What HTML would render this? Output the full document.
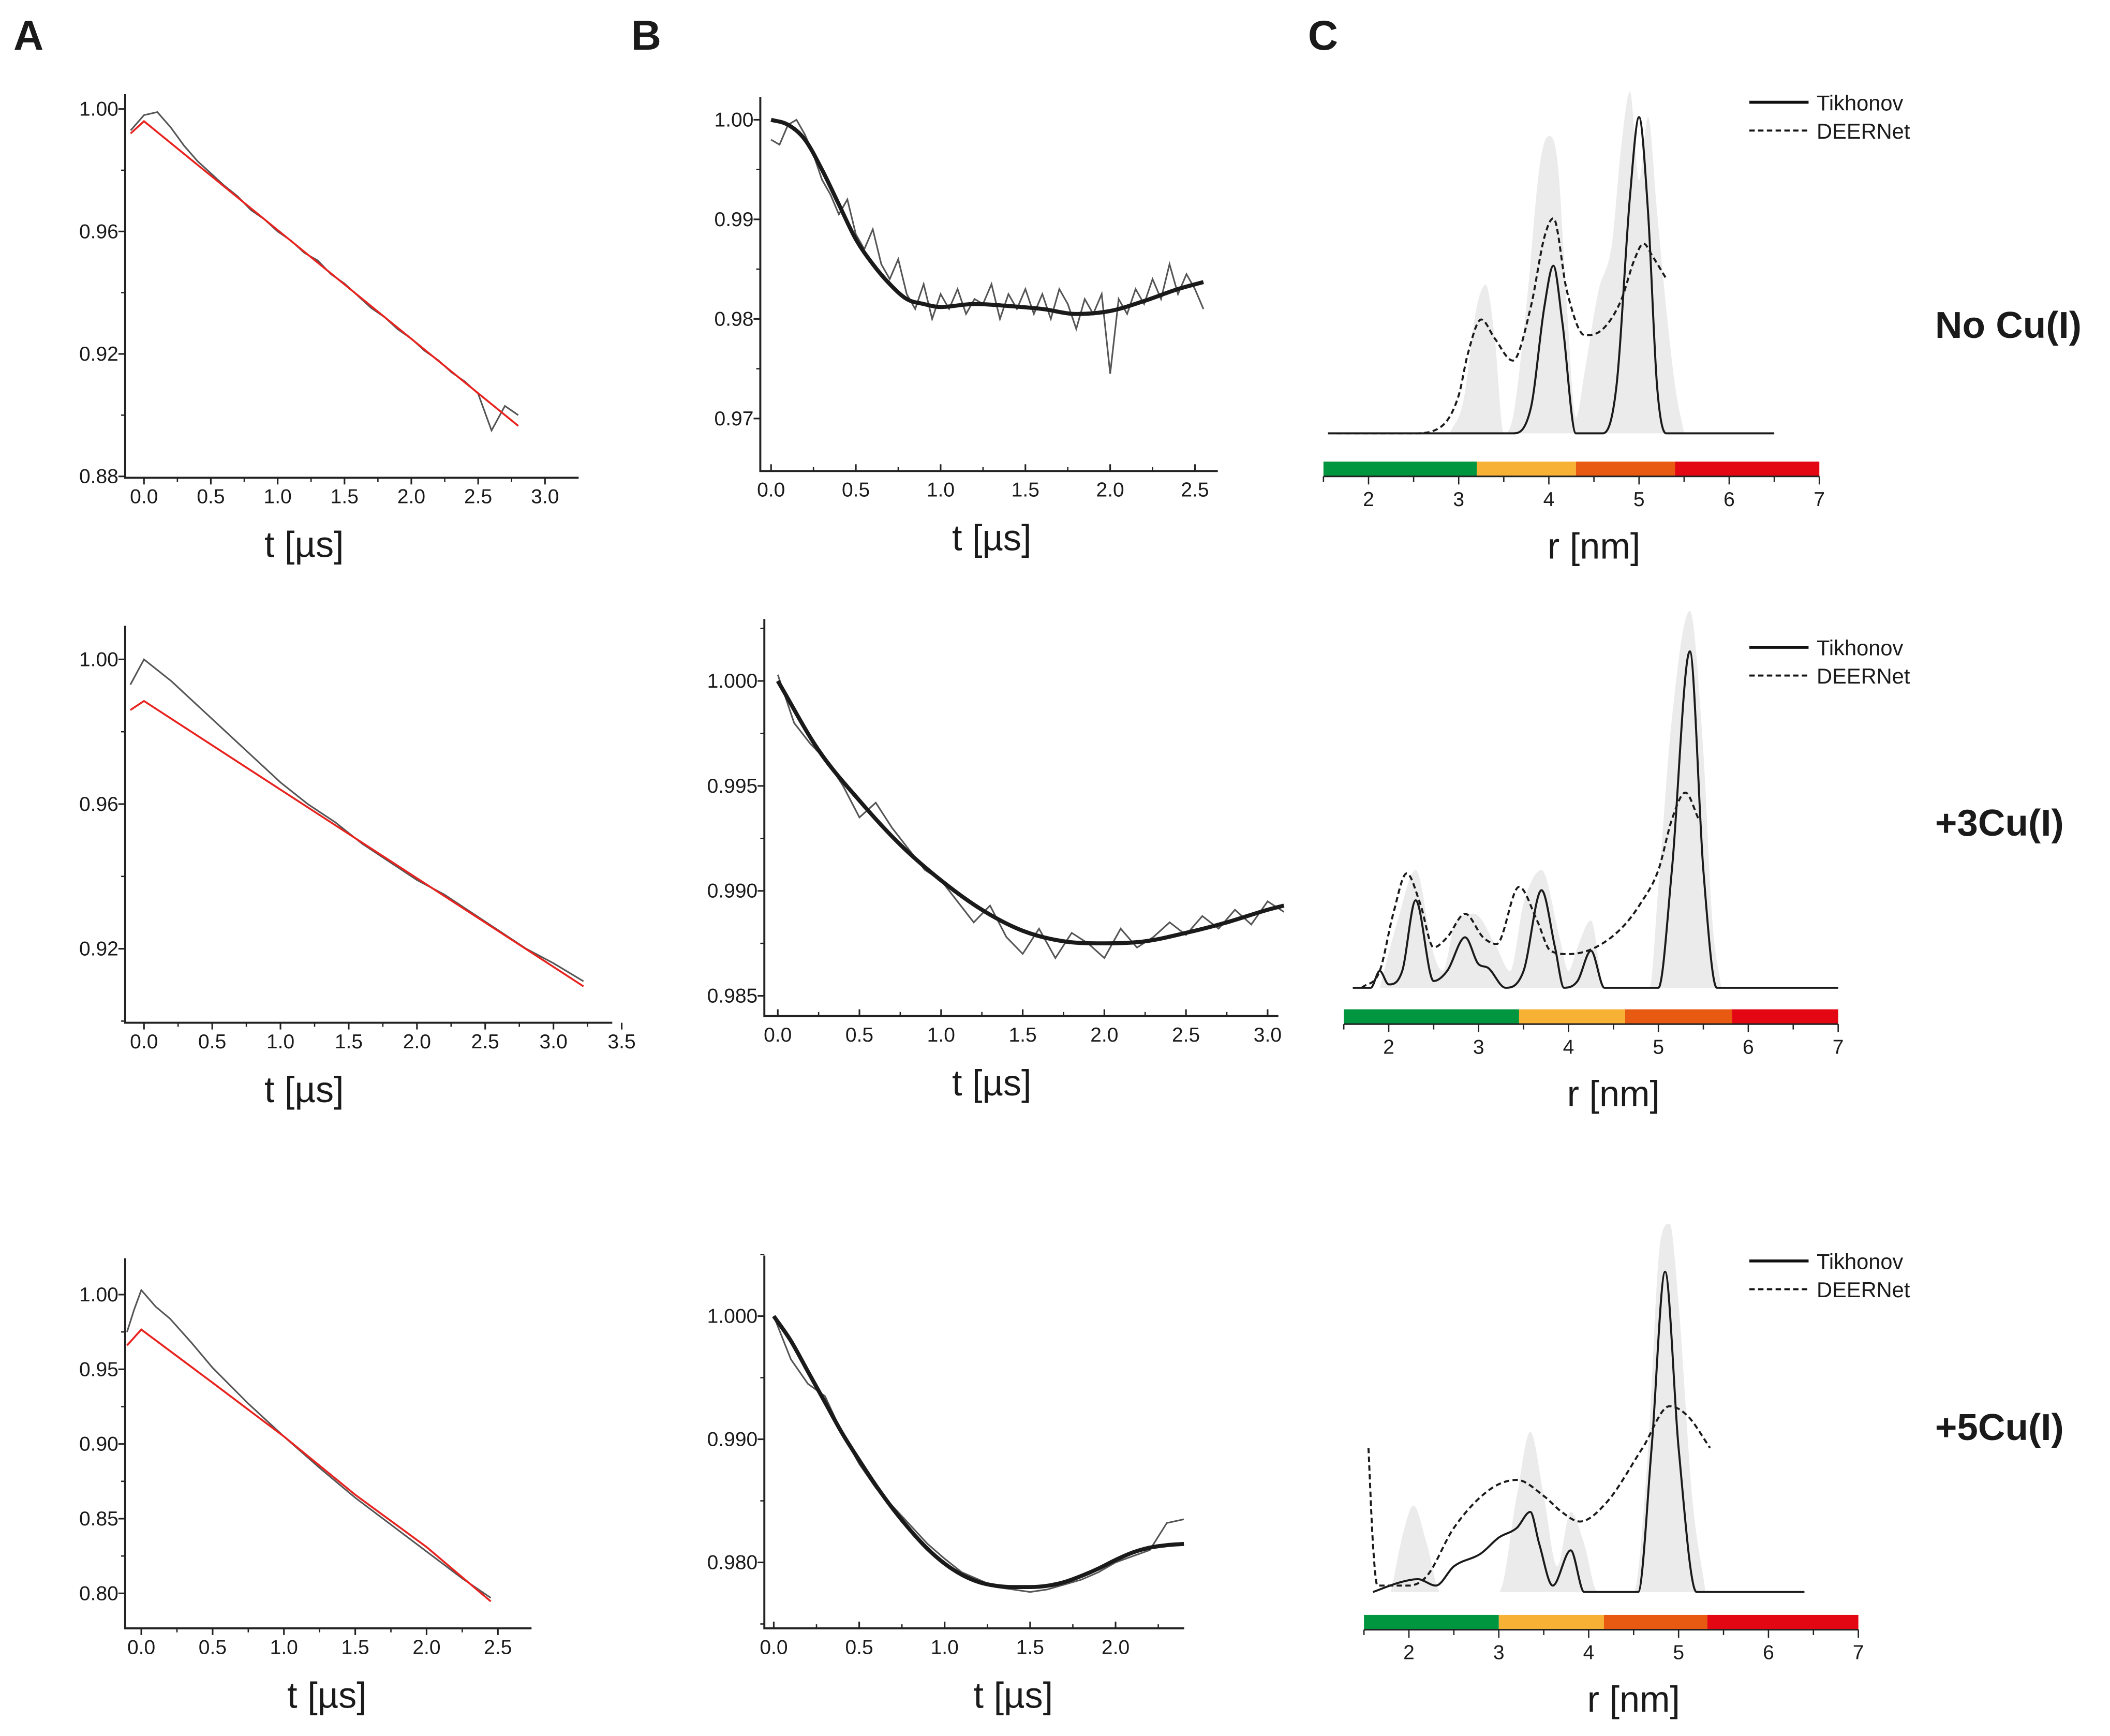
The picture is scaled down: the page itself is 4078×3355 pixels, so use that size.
<!DOCTYPE html>
<html><head><meta charset="utf-8"><style>
html,body{margin:0;padding:0;background:#fff;}
svg{display:block;}
text{font-family:"Liberation Sans",sans-serif;fill:#1a1a1a;}
</style></head><body>
<svg id="fig" xmlns="http://www.w3.org/2000/svg" width="4078" height="3355" viewBox="0 0 1568 1290" preserveAspectRatio="none">
<text x="10" y="37" font-size="31" font-weight="bold">A</text>
<text x="469" y="37" font-size="31" font-weight="bold">B</text>
<text x="972" y="37" font-size="31" font-weight="bold">C</text>
<text x="1438" y="251" font-size="28" font-weight="bold">No Cu(I)</text>
<text x="1438" y="621" font-size="28" font-weight="bold">+3Cu(I)</text>
<text x="1438" y="1070" font-size="28" font-weight="bold">+5Cu(I)</text>
</svg>
<script>
// ---- Panel A data ----
const a1T=[-0.1,0,0.1,0.2,0.3,0.4,0.5,0.6,0.7,0.8,0.9,1.0,1.1,1.2,1.3,1.4,1.5,1.6,1.7,1.8,1.9,2.0,2.1,2.2,2.3,2.4,2.5,2.6,2.7,2.8];
const a1Noisy=[0.993,0.998,0.999,0.994,0.988,0.983,0.979,0.975,0.9715,0.967,0.964,0.960,0.957,0.953,0.9505,0.946,0.943,0.939,0.935,0.932,0.928,0.925,0.921,0.918,0.914,0.911,0.907,0.895,0.903,0.900];
const a1FitT=[-0.1,0,2.8];
const a1Fit=[0.992,0.996,0.8965];
const a2T=[-0.1,0,0.2,0.4,0.6,0.8,1.0,1.2,1.4,1.6,1.8,2.0,2.2,2.4,2.6,2.8,3.0,3.22];
const a2Noisy=[0.993,1.000,0.994,0.987,0.980,0.973,0.966,0.960,0.955,0.949,0.944,0.939,0.935,0.930,0.925,0.920,0.916,0.911];
const a2FitT=[-0.1,0,3.22];
const a2Fit=[0.986,0.9885,0.9096];
const a3T=[-0.1,-0.05,0,0.1,0.2,0.35,0.5,0.75,1.0,1.25,1.5,1.75,2.0,2.25,2.45];
const a3Noisy=[0.975,0.99,1.003,0.992,0.984,0.968,0.951,0.927,0.905,0.884,0.864,0.846,0.828,0.810,0.797];
const a3FitT=[-0.1,0,0.5,1.0,1.5,2.0,2.45];
const a3Fit=[0.966,0.9766,0.941,0.905,0.866,0.831,0.7946];
// ---- Panel B data ----
const b1FitT=[0,0.1,0.2,0.3,0.4,0.5,0.6,0.7,0.8,0.9,1.0,1.2,1.4,1.6,1.8,2.0,2.2,2.4,2.55];
const b1Fit=[1.0,0.9995,0.998,0.995,0.9915,0.988,0.9855,0.9835,0.982,0.9815,0.9812,0.9815,0.9813,0.981,0.9805,0.9808,0.9818,0.983,0.9837];
const b1Noisy=[0.998,0.9975,0.9995,1.0,0.9985,0.9965,0.994,0.9925,0.9905,0.992,0.9885,0.9870,0.9890,0.9855,0.9840,0.9860,0.9825,0.9810,0.9835,0.9800,0.9825,0.9810,0.9830,0.9805,0.9820,0.9815,0.9835,0.9800,0.9825,0.9810,0.9830,0.9805,0.9825,0.9800,0.9830,0.9815,0.9790,0.9820,0.9805,0.9825,0.9745,0.9820,0.9805,0.9830,0.9815,0.9840,0.9820,0.9855,0.9825,0.9845,0.9830,0.9810];
const b2FitT=[0,0.25,0.5,0.75,1.0,1.25,1.5,1.75,2.0,2.25,2.5,2.75,3.0,3.1];
const b2Fit=[1.0,0.9967,0.9943,0.9922,0.9905,0.9891,0.9881,0.9876,0.9875,0.9876,0.9880,0.9885,0.9891,0.9893];
const b2Noisy=[1.0003,0.998,0.997,0.9962,0.995,0.9935,0.9942,0.993,0.992,0.991,0.9905,0.9895,0.9885,0.9893,0.9878,0.9870,0.9882,0.9868,0.9880,0.9875,0.9868,0.9882,0.9873,0.9878,0.9885,0.9879,0.9888,0.9882,0.9891,0.9884,0.9895,0.9890];
const b3FitT=[0,0.1,0.2,0.3,0.4,0.5,0.6,0.7,0.8,0.9,1.0,1.1,1.2,1.3,1.4,1.5,1.6,1.7,1.8,1.9,2.0,2.1,2.2,2.3,2.4];
const b3Fit=[1.0,0.998,0.9955,0.993,0.9905,0.9883,0.9862,0.9843,0.9826,0.9811,0.9799,0.979,0.9784,0.9781,0.978,0.978,0.9781,0.9784,0.9789,0.9795,0.9802,0.9808,0.9812,0.9814,0.9815];
const b3Noisy=[1.0,0.9965,0.9945,0.9935,0.9905,0.9880,0.9860,0.9845,0.9830,0.9815,0.9803,0.9792,0.9786,0.9780,0.9778,0.9776,0.9778,0.9782,0.9786,0.9792,0.9800,0.9805,0.9810,0.9832,0.9835];
// ---- Panel C data ----
const c1TikR=[1.6,3.6,3.8,3.95,4.05,4.15,4.3,4.6,4.75,4.9,5.0,5.1,5.2,5.3,6.5];
const c1Tik=[0,0,0.08,0.4,0.53,0.35,0,0,0.15,0.75,1,0.7,0.15,0,0];
const c1DeerR=[1.55,2.5,2.8,3.0,3.1,3.25,3.4,3.6,3.8,3.95,4.05,4.2,4.4,4.6,4.8,4.95,5.05,5.15,5.3];
const c1Deer=[0,0,0.02,0.12,0.25,0.36,0.3,0.23,0.4,0.62,0.68,0.45,0.31,0.33,0.42,0.55,0.6,0.56,0.49];
const c1GrayR=[2.9,3.05,3.2,3.3,3.4,3.5,3.6,3.75,3.9,4.0,4.1,4.2,4.3,4.4,4.55,4.7,4.8,4.9,5.0,5.1,5.2,5.3,5.4,5.5];
const c1Gray=[0,0.1,0.4,0.47,0.3,0,0.05,0.4,0.85,0.94,0.85,0.4,0.05,0.2,0.45,0.6,0.9,1.08,0.8,1.0,0.7,0.4,0.15,0];
const c2TikR=[1.6,1.8,1.9,2.0,2.15,2.3,2.5,2.65,2.85,3.0,3.1,3.3,3.5,3.7,3.85,3.95,4.1,4.25,4.4,5.0,5.15,5.35,5.5,5.65,7];
const c2Tik=[0,0,0.05,0.01,0.05,0.26,0.02,0.05,0.15,0.07,0.06,0,0.05,0.29,0.12,0,0.02,0.11,0,0,0.35,1.0,0.35,0,0];
const c2DeerR=[1.7,1.9,2.05,2.2,2.35,2.5,2.65,2.85,3.05,3.2,3.45,3.65,3.8,4.0,4.3,4.6,4.8,5.0,5.15,5.3,5.45];
const c2Deer=[0,0.05,0.22,0.34,0.25,0.12,0.15,0.22,0.15,0.13,0.3,0.2,0.11,0.1,0.12,0.18,0.25,0.35,0.5,0.58,0.5];
const c2GrayR=[1.9,2.1,2.3,2.5,2.6,2.75,2.95,3.2,3.35,3.5,3.7,3.9,4.0,4.1,4.25,4.4,4.9,5.0,5.15,5.35,5.5,5.6,5.7];
const c2Gray=[0,0.2,0.35,0.1,0.05,0.2,0.22,0.12,0.05,0.25,0.35,0.15,0.05,0.12,0.2,0,0,0.3,0.8,1.12,0.7,0.2,0];
const c3TikR=[1.6,1.9,2.1,2.3,2.5,2.8,3.0,3.2,3.35,3.45,3.6,3.8,3.95,4.1,4.55,4.7,4.85,5.0,5.2,6.4];
const c3Tik=[0,0.03,0.04,0.02,0.08,0.12,0.17,0.2,0.25,0.15,0.02,0.13,0,0,0,0.45,1.0,0.45,0,0];
const c3DeerR=[1.55,1.6,1.65,1.75,2.0,2.2,2.5,2.9,3.2,3.5,3.7,3.9,4.2,4.6,4.9,5.1,5.35];
const c3Deer=[0.45,0.15,0.02,0.02,0.02,0.05,0.2,0.32,0.35,0.3,0.25,0.22,0.28,0.45,0.58,0.55,0.45];
const c3GrayR=[1.8,1.95,2.05,2.2,2.35,3.0,3.2,3.35,3.5,3.65,3.8,3.95,4.1,4.5,4.65,4.8,4.9,5.0,5.15,5.3];
const c3Gray=[0,0.2,0.27,0.15,0,0,0.3,0.5,0.3,0.08,0.25,0.15,0,0,0.4,1.1,1.15,0.9,0.3,0];

const NS='http://www.w3.org/2000/svg';
const svg=document.getElementById('fig');
function el(tag,attrs,parent){const e=document.createElementNS(NS,tag);for(const k in attrs)e.setAttribute(k,attrs[k]);(parent||svg).appendChild(e);return e;}
function lin(d0,d1,p0,p1){return v=>p0+(v-d0)*(p1-p0)/(d1-d0);}
function poly(xs,ys,sx,sy){return xs.map((x,i)=>sx(x).toFixed(2)+','+sy(ys[i]).toFixed(2)).join(' ');}
// monotone cubic (no overshoot)
function smooth(xs,ys,sx,sy){
  const X=xs.map(sx),Y=ys.map(sy),n=X.length;
  const d=[],m=new Array(n);
  for(let i=0;i<n-1;i++)d.push((Y[i+1]-Y[i])/(X[i+1]-X[i]));
  m[0]=d[0];m[n-1]=d[n-2];
  for(let i=1;i<n-1;i++){m[i]=(d[i-1]*d[i]<=0)?0:(d[i-1]+d[i])/2;}
  for(let i=0;i<n-1;i++){if(d[i]===0){m[i]=0;m[i+1]=0;continue;}
    const a=m[i]/d[i],b=m[i+1]/d[i],s=a*a+b*b;if(s>9){const t=3/Math.sqrt(s);m[i]=t*a*d[i];m[i+1]=t*b*d[i];}}
  let p='M'+X[0].toFixed(2)+','+Y[0].toFixed(2);
  for(let i=0;i<n-1;i++){const h=(X[i+1]-X[i])/3;
    p+=' C'+(X[i]+h).toFixed(2)+','+(Y[i]+m[i]*h).toFixed(2)+' '+(X[i+1]-h).toFixed(2)+','+(Y[i+1]-m[i+1]*h).toFixed(2)+' '+X[i+1].toFixed(2)+','+Y[i+1].toFixed(2);}
  return p;}
function evenSeq(n,start,step){const r=[];for(let i=0;i<n;i++)r.push(+(start+i*step).toFixed(3));return r;}

function timePanel(id,c){
  const g=el('g',{});
  
  
  const sx=lin(c.x0v,c.x1v,c.x0p,c.x1p), sy=lin(c.y0v,c.y1v,c.y0p,c.y1p);
  const ax=el('path',{d:`M${c.axL},${c.axT} V${c.axB} H${c.axR}`,stroke:'#222','stroke-width':1.5,fill:'none'},g);
  
  
  c.yt.forEach(v=>{const y=sy(v);el('line',{x1:c.axL-5,x2:c.axL,y1:y,y2:y,stroke:'#222','stroke-width':1.2},g);
    const t=el('text',{x:c.axL-5,y:y+5,'font-size':15,'text-anchor':'end'},g);t.textContent=c.yfmt(v);
    
    });
  c.ym.forEach(v=>{const y=sy(v);el('line',{x1:c.axL-3,x2:c.axL,y1:y,y2:y,stroke:'#222','stroke-width':1},g);});
  c.xt.forEach(v=>{const x=sx(v);el('line',{x1:x,x2:x,y1:c.axB,y2:c.axB+(c.xin?-5:5),stroke:'#222','stroke-width':1.2},g);
    const t=el('text',{x:x,y:c.axB+19,'font-size':15,'text-anchor':'middle'},g);t.textContent=v.toFixed(1);
    
    });
  c.xm.forEach(v=>{const x=sx(v);el('line',{x1:x,x2:x,y1:c.axB,y2:c.axB+(c.xin?-3:3),stroke:'#222','stroke-width':1},g);});
  const ti=el('text',{x:c.titleX,y:c.axB+59,'font-size':27,'text-anchor':'middle'},g);ti.textContent='t [\u00b5s]';
  
  
  const n=el('polyline',{points:poly(c.nT,c.nV,sx,sy),fill:'none',stroke:'#555','stroke-width':1.2},g);
  
  
  const f=c.red?el('polyline',{points:poly(c.fT,c.fV,sx,sy),fill:'none',stroke:'#e8231f','stroke-width':1.4},g)
                :el('path',{d:smooth(c.fT,c.fV,sx,sy),fill:'none',stroke:'#1a1a1a','stroke-width':3},g);
  
  
}
const f2=v=>v.toFixed(2), f3=v=>v.toFixed(3);
timePanel('panel-a1',{x0v:0,x1v:3.0,x0p:107,x1p:405,y0v:1.0,y1v:0.88,y0p:81,y1p:354,axL:93,axT:70,axB:355,axR:430,
  yt:[1.0,0.96,0.92,0.88],ym:[0.98,0.94,0.90],yfmt:f2,xt:[0,0.5,1,1.5,2,2.5,3],xm:[0.25,0.75,1.25,1.75,2.25,2.75],
  titleX:226,nT:a1T,nV:a1Noisy,fT:a1FitT,fV:a1Fit,red:true});
timePanel('panel-a2',{x0v:0,x1v:3.5,x0p:107,x1p:462,y0v:1.0,y1v:0.92,y0p:490,y1p:705,axL:93,axT:465,axB:760,axR:455,
  yt:[1.0,0.96,0.92],ym:[0.98,0.94,0.90],yfmt:f2,xt:[0,0.5,1,1.5,2,2.5,3,3.5],xm:[0.25,0.75,1.25,1.75,2.25,2.75,3.25],
  titleX:226,nT:a2T,nV:a2Noisy,fT:a2FitT,fV:a2Fit,red:true});
timePanel('panel-a3',{x0v:0,x1v:2.5,x0p:105,x1p:370,y0v:1.0,y1v:0.8,y0p:962,y1p:1184,axL:93,axT:935,axB:1210,axR:395,
  yt:[1.0,0.95,0.9,0.85,0.8],ym:[0.975,0.925,0.875,0.825],yfmt:f2,xt:[0,0.5,1,1.5,2,2.5],xm:[0.25,0.75,1.25,1.75,2.25],
  titleX:243,nT:a3T,nV:a3Noisy,fT:a3FitT,fV:a3Fit,red:true});
timePanel('panel-b1',{x0v:0,x1v:2.5,x0p:573,x1p:888,y0v:1.0,y1v:0.97,y0p:89,y1p:311,axL:565,axT:72,axB:350,axR:905,
  yt:[1.0,0.99,0.98,0.97],ym:[0.995,0.985,0.975],yfmt:f2,xt:[0,0.5,1,1.5,2,2.5],xm:[0.25,0.75,1.25,1.75,2.25],xin:true,
  titleX:737,nT:evenSeq(52,0,0.05),nV:b1Noisy,fT:b1FitT,fV:b1Fit});
timePanel('panel-b2',{x0v:0,x1v:3.0,x0p:578,x1p:942,y0v:1.0,y1v:0.985,y0p:506,y1p:740,axL:568,axT:460,axB:755,axR:950,
  yt:[1.0,0.995,0.99,0.985],ym:[1.0025,0.9975,0.9925,0.9875],yfmt:f3,xt:[0,0.5,1,1.5,2,2.5,3],xm:[0.25,0.75,1.25,1.75,2.25,2.75],xin:true,
  titleX:737,nT:evenSeq(32,0,0.1),nV:b2Noisy,fT:b2FitT,fV:b2Fit});
timePanel('panel-b3',{x0v:0,x1v:2.0,x0p:575,x1p:829,y0v:1.0,y1v:0.98,y0p:978,y1p:1161,axL:568,axT:933,axB:1210,axR:880,
  yt:[1.0,0.99,0.98],ym:[1.005,0.995,0.985,0.975],yfmt:f3,xt:[0,0.5,1,1.5,2],xm:[0.25,0.75,1.25,1.75,2.25],xin:true,
  titleX:753,nT:b3FitT,nV:b3Noisy,fT:b3FitT,fV:b3Fit});

const barColors=['#00963f','#f7b135','#e85a12','#e30613'];
function distPanel(id,c){
  const g=el('g',{});
  
  
  const sx=lin(2,7,c.x2,c.x7), sy=lin(0,1,c.base,c.top);
  const gp=smooth(c.gR,c.gV,sx,sy)+` L${sx(c.gR[c.gR.length-1])},${c.base} L${sx(c.gR[0])},${c.base} Z`;
  const gr=el('path',{d:gp,fill:'#ebebeb',stroke:'none'},g);
  
  
  const d=el('path',{d:smooth(c.dR,c.dV,sx,sy),fill:'none',stroke:'#1a1a1a','stroke-width':1.5,'stroke-dasharray':'4,2.5'},g);
  
  
  const t=el('path',{d:smooth(c.tR,c.tV,sx,sy),fill:'none',stroke:'#1a1a1a','stroke-width':1.5},g);
  
  
  const edges=[1.5].concat(c.edges).concat([7]);
  for(let i=0;i<4;i++){const r=el('rect',{x:sx(edges[i]),y:c.barY,width:sx(edges[i+1])-sx(edges[i]),height:11,fill:barColors[i]},g);
    
    }
  el('line',{x1:sx(1.5),x2:sx(7),y1:c.barY+11,y2:c.barY+11,stroke:'#222','stroke-width':1.2},g);
  for(let v=1.5;v<=7.01;v+=0.5){const x=sx(v);el('line',{x1:x,x2:x,y1:c.barY+11,y2:c.barY+(v%1===0?17:15),stroke:'#222','stroke-width':1},g);}
  [2,3,4,5,6,7].forEach(v=>{const tx=el('text',{x:sx(v),y:c.barY+33,'font-size':15,'text-anchor':'middle'},g);tx.textContent=v;
    
    });
  const ti=el('text',{x:sx(4.5),y:c.barY+72,'font-size':27,'text-anchor':'middle'},g);ti.textContent='r [nm]';
  
  
  const lg=el('g',{},g);
  
  
  el('line',{x1:c.lx,x2:c.lx+44,y1:c.ly,y2:c.ly,stroke:'#111','stroke-width':2.2},lg);
  el('line',{x1:c.lx,x2:c.lx+44,y1:c.ly+21,y2:c.ly+21,stroke:'#111','stroke-width':1.5,'stroke-dasharray':'4,2.5'},lg);
  const l1=el('text',{x:c.lx+50,y:c.ly+6,'font-size':16},lg);l1.textContent='Tikhonov';
  
  
  const l2=el('text',{x:c.lx+50,y:c.ly+27,'font-size':16},lg);l2.textContent='DEERNet';
  
  
}
distPanel('panel-c1',{x2:1017,x7:1352,base:322,top:87,barY:343,edges:[3.2,4.3,5.4],lx:1300,ly:76,
  tR:c1TikR,tV:c1Tik,dR:c1DeerR,dV:c1Deer,gR:c1GrayR,gV:c1Gray});
distPanel('panel-c2',{x2:1032,x7:1366,base:734,top:484,barY:750,edges:[3.45,4.63,5.82],lx:1300,ly:481,
  tR:c2TikR,tV:c2Tik,dR:c2DeerR,dV:c2Deer,gR:c2GrayR,gV:c2Gray});
distPanel('panel-c3',{x2:1047,x7:1381,base:1183,top:945,barY:1200,edges:[3.0,4.17,5.32],lx:1300,ly:937,
  tR:c3TikR,tV:c3Tik,dR:c3DeerR,dV:c3Deer,gR:c3GrayR,gV:c3Gray});
</script>
</body></html>
